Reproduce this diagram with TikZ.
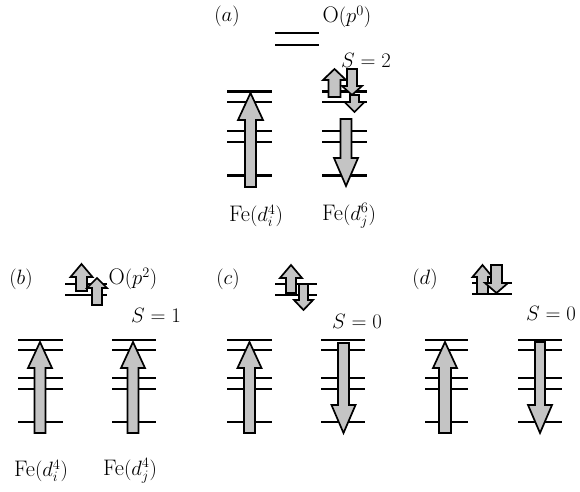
\documentclass[tikz,border=0pt]{standalone}
\begin{document}
\begin{tikzpicture}[x=1pt,y=-1pt,
  level/.style={line width=2.4pt,black},
  spin/.style={line width=1.7pt,black,fill=black!23,line join=miter},
  lbl/.style={font=\fontsize{22.5}{27}\selectfont,inner sep=0pt}]
\newcommand\upspin[6]{% x, tail y, tip y, shaft half w, head half w, head length
  \draw[spin] ({#1-#4},#2) -- ({#1-#4},{#3+#6}) -- ({#1-#5},{#3+#6}) -- (#1,#3)
   -- ({#1+#5},{#3+#6}) -- ({#1+#4},{#3+#6}) -- ({#1+#4},#2) -- cycle;}
\newcommand\downspin[6]{% x, tail y, tip y, shaft half w, head half w, head length
  \draw[spin] ({#1-#4},#2) -- ({#1-#4},{#3-#6}) -- ({#1-#5},{#3-#6}) -- (#1,#3)
   -- ({#1+#5},{#3-#6}) -- ({#1+#4},{#3-#6}) -- ({#1+#4},#2) -- cycle;}
\newcommand\felevels[3]{% x left, x right, list of y
  \foreach \yy in {#3} {\draw[level] (#1,\yy) -- (#2,\yy);}}
\useasboundingbox[fill=white] (0,0) rectangle (580,491);

% ---------- (a)
\node[lbl] (la) at (227,16) {$(a)$};
\node[lbl] (oa) at (347,17) {O$(p^0)$};
\node[lbl] (sa) at (366,60) {$S=2$};
\draw[level] (275,33) -- (319,33);
\draw[level] (275,45) -- (319,45);
\felevels{227}{272}{91.5,102,131,142,175.5}
\felevels{322}{367}{91.5,102,131,142,175.5}
\upspin{250.5}{187}{93}{5.5}{12.5}{27}
\downspin{346}{119}{186}{5.5}{12}{28}
\upspin{334.5}{97}{69}{6}{11.5}{11}
\downspin{352}{69}{95}{5}{10}{9}
\downspin{354.5}{95}{112}{4.5}{10}{10}
\node[lbl] (fa1) at (256,216) {Fe$(d_i^4)$};
\node[lbl] (fa2) at (349,216) {Fe$(d_j^6)$};

% ---------- (b)
\node[lbl] (lb) at (21,279) {$(b)$};
\node[lbl] (ob) at (133,279) {O$(p^2)$};
\node[lbl] (sb) at (156,315) {$S=1$};
\draw[level] (65,284) -- (107,284);
\draw[level] (65,295) -- (107,295);
\upspin{81.5}{291}{264}{5.5}{11}{13}
\upspin{97}{305}{278}{5}{10}{10}
\felevels{18}{63}{340,350,378,389,422}
\felevels{112}{156}{340,350,378,389,422}
\upspin{40}{433}{342}{5.5}{12}{26}
\upspin{133}{433}{342}{5.5}{12}{26}
\node[lbl] (fb1) at (41,471) {Fe$(d_i^4)$};
\node[lbl] (fb2) at (130,471) {Fe$(d_j^4)$};

% ---------- (c)
\node[lbl] (lc) at (228,279) {$(c)$};
\node[lbl] (sc) at (357,321) {$S=0$};
\draw[level] (275,284) -- (317,284);
\draw[level] (275,295) -- (317,295);
\upspin{291}{293}{265}{5}{11}{13}
\downspin{303.5}{284}{310}{4.5}{9.5}{10}
\felevels{227}{272}{340,350,378,389,422}
\felevels{321}{365}{340,350,378,389,422}
\upspin{249.5}{433}{342}{5.5}{12}{26}
\downspin{343.5}{343}{433}{5.5}{12}{28}

% ---------- (d)
\node[lbl] (ld) at (425,279) {$(d)$};
\node[lbl] (sd) at (551,313) {$S=0$};
\draw[level] (472,283) -- (512,283);
\draw[level] (472,294) -- (512,294);
\upspin{482.5}{294}{265}{5.5}{10}{12}
\downspin{496.5}{265}{293}{5.5}{11.5}{10}
\felevels{425}{468}{340,350,378,389,422}
\felevels{518}{562}{340,350,378,389,422}
\upspin{445}{433}{342}{6}{12}{26}
\downspin{540}{342}{433}{5}{12}{28}
\end{tikzpicture}
\end{document}
